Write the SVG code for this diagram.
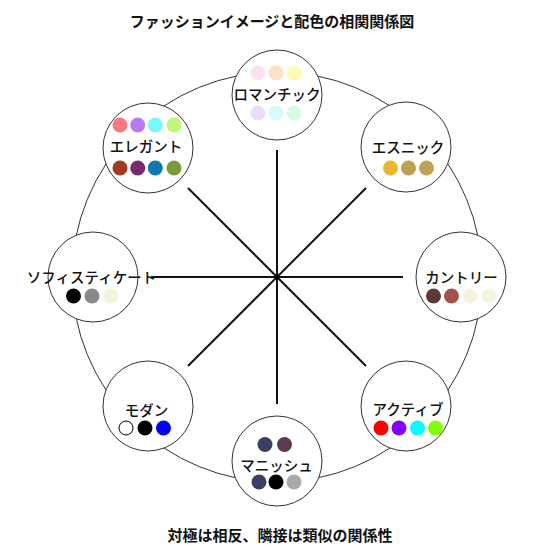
<svg xmlns="http://www.w3.org/2000/svg" width="554" height="554" viewBox="0 0 554 554">
<style>
text{font-family:"Noto Sans CJK JP","Noto Sans",sans-serif;fill:#111;text-anchor:middle;dominant-baseline:central}
.t{font-size:15px;font-weight:bold}
.l{font-size:14.5px;font-weight:500}
.node{fill:#fff;stroke:#333;stroke-width:1}
.spoke{stroke:#111;stroke-width:2;fill:none}
</style>
<rect width="554" height="554" fill="#fff"/>
<text class="t" x="272" y="20">ファッションイメージと配色の相関関係図</text>
<circle cx="277" cy="277" r="205" fill="none" stroke="#333" stroke-width="1"/>
<g id="connectors">
<line class="spoke" x1="277" y1="150" x2="277" y2="404"/>
<line class="spoke" x1="151" y1="277" x2="403" y2="277"/>
<line class="spoke" x1="188" y1="188" x2="366" y2="366"/>
<line class="spoke" x1="366" y1="188" x2="188" y2="366"/>
<circle cx="277" cy="277" r="2.5" fill="#000"/>
</g>
<g id="romantic">
<circle class="node" cx="277" cy="95" r="45"/>
<circle cx="258" cy="73" r="7.5" fill="#fde0ef"/>
<circle cx="276" cy="73" r="7.5" fill="#fde3c2"/>
<circle cx="294" cy="73" r="7.5" fill="#fcfab4"/>
<text class="l" x="277" y="93">ロマンチック</text>
<circle cx="258" cy="113" r="7.5" fill="#e4defb"/>
<circle cx="276" cy="113" r="7.5" fill="#d7f8fc"/>
<circle cx="294" cy="113" r="7.5" fill="#d6fae4"/>
</g>
<g id="ethnic">
<circle class="node" cx="406" cy="147" r="45"/>
<text class="l" x="408" y="146">エスニック</text>
<circle cx="390.5" cy="168" r="7.5" fill="#ecb82b"/>
<circle cx="408.5" cy="168" r="7.5" fill="#bea150"/>
<circle cx="426.5" cy="168" r="7.5" fill="#c0a453"/>
</g>
<g id="country">
<circle class="node" cx="461" cy="277" r="45"/>
<text class="l" x="461.5" y="276">カントリー</text>
<circle cx="433.5" cy="296" r="7.5" fill="#5a3b33"/>
<circle cx="451.5" cy="296" r="7.5" fill="#a8514a"/>
<circle cx="470" cy="296" r="7.5" fill="#f4f4dc"/>
<circle cx="489" cy="296" r="7.5" fill="#f2f4de"/>
</g>
<g id="active">
<circle class="node" cx="406" cy="406" r="45"/>
<text class="l" x="408" y="408">アクティブ</text>
<circle cx="381" cy="428" r="7.5" fill="#ff0000"/>
<circle cx="399" cy="428" r="7.5" fill="#8000ff"/>
<circle cx="417.5" cy="428" r="7.5" fill="#00ffff"/>
<circle cx="435.5" cy="428" r="7.5" fill="#80ff00"/>
</g>
<g id="mannish">
<circle class="node" cx="277" cy="461" r="45"/>
<circle cx="265" cy="444.5" r="7.5" fill="#3a4062"/>
<circle cx="284.5" cy="444.5" r="7.5" fill="#5b3a53"/>
<text class="l" x="276.5" y="464">マニッシュ</text>
<circle cx="259" cy="482" r="7.5" fill="#3a4062"/>
<circle cx="276" cy="482" r="7.5" fill="#000"/>
<circle cx="294" cy="482" r="7.5" fill="#aaaaaa"/>
</g>
<g id="modern">
<circle class="node" cx="148" cy="406" r="45"/>
<text class="l" x="146.5" y="409">モダン</text>
<circle cx="126" cy="428" r="7" fill="#fff" stroke="#000" stroke-width="1"/>
<circle cx="145" cy="428" r="7.5" fill="#000"/>
<circle cx="163.5" cy="428" r="7.5" fill="#0000ff"/>
</g>
<g id="sophisticate">
<circle class="node" cx="93" cy="277" r="45"/>
<text class="l" x="91.5" y="276.5">ソフィスティケート</text>
<circle cx="73.5" cy="296" r="7.5" fill="#000"/>
<circle cx="92" cy="296" r="7.5" fill="#888888"/>
<circle cx="110.5" cy="296" r="7.5" fill="#f4f4da"/>
</g>
<g id="elegant">
<circle class="node" cx="148" cy="148" r="45"/>
<circle cx="120" cy="125" r="7.5" fill="#fa7a7a"/>
<circle cx="137.7" cy="125" r="7.5" fill="#b97af7"/>
<circle cx="155.3" cy="125" r="7.5" fill="#7af7f7"/>
<circle cx="174" cy="125" r="7.5" fill="#c0f77a"/>
<text class="l" x="146" y="145">エレガント</text>
<circle cx="120" cy="168" r="7.5" fill="#a03a20"/>
<circle cx="137.7" cy="168" r="7.5" fill="#782a6e"/>
<circle cx="155.3" cy="168" r="7.5" fill="#0a7ab0"/>
<circle cx="174" cy="168" r="7.5" fill="#7a9a3a"/>
</g>
<text class="t" x="280" y="534">対極は相反、隣接は類似の関係性</text>
</svg>
